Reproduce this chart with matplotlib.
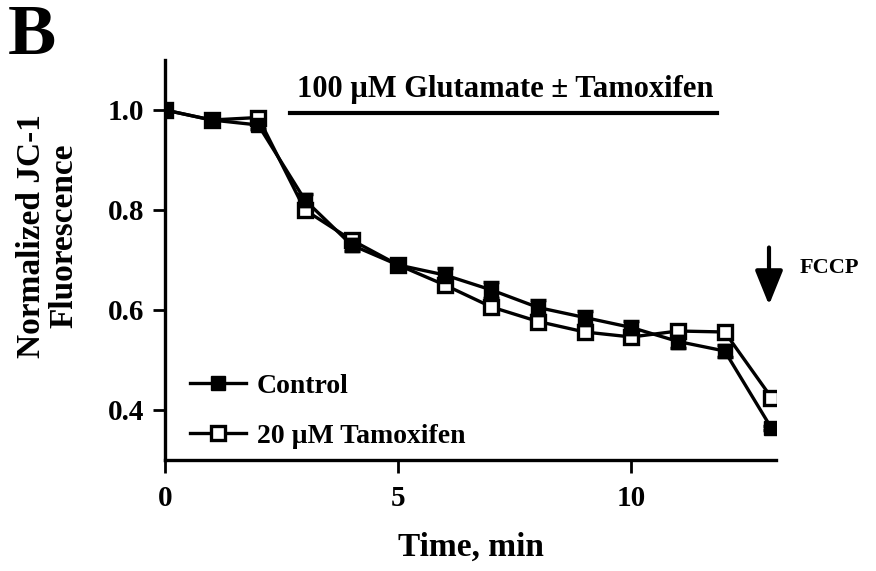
import matplotlib
matplotlib.use("Agg")
import matplotlib.pyplot as plt
from matplotlib.lines import Line2D

plt.rcParams['font.family'] = ['Liberation Serif', 'DejaVu Serif']
plt.rcParams['font.weight'] = 'bold'

time = list(range(14))
control = [1.0, 0.98, 0.97, 0.82, 0.73, 0.69, 0.67, 0.64, 0.605, 0.585, 0.565, 0.537, 0.518, 0.364]
control_err = [0.0, 0.005, 0.008, 0.012, 0.012, 0.008, 0.014, 0.016, 0.015, 0.014, 0.013, 0.012, 0.012, 0.004]
tamox = [1.0, 0.98, 0.985, 0.80, 0.74, 0.69, 0.65, 0.606, 0.577, 0.556, 0.546, 0.558, 0.556, 0.425]
tamox_err = [0.0, 0.005, 0.008, 0.010, 0.010, 0.008, 0.010, 0.010, 0.010, 0.010, 0.010, 0.010, 0.012, 0.005]
labels = ["Control", "20 \u00b5M Tamoxifen"]
xticks = [0, 5, 10]
yticks = [0.4, 0.6, 0.8, 1.0]

fig = plt.figure(figsize=(8.76, 5.71), dpi=100)
ax = fig.add_axes([165/876, 1-460/571, 611/876, 400/571])

ax.errorbar(time, tamox, yerr=tamox_err, color='black', lw=2.4, marker='s',
            markersize=10, markerfacecolor='white', markeredgecolor='black',
            markeredgewidth=2.4, capsize=6, elinewidth=2, capthick=2.5, zorder=3)
ax.errorbar(time, control, yerr=control_err, color='black', lw=2.4, marker='s',
            markersize=10, markerfacecolor='black', markeredgecolor='black',
            capsize=6, elinewidth=2, capthick=2.5, zorder=4)

ax.set_xlim(0, 13.1)
ax.set_ylim(0.3, 1.1)
ax.set_xticks(xticks)
ax.set_yticks(yticks)
ax.set_xticklabels([str(t) for t in xticks], fontsize=21, fontweight='bold')
ax.set_yticklabels([f"{t:.1f}" for t in yticks], fontsize=21, fontweight='bold')
for s in ['top', 'right']:
    ax.spines[s].set_visible(False)
for s in ['left', 'bottom']:
    ax.spines[s].set_linewidth(2.4)
ax.tick_params(axis='y', width=2, length=9, pad=6)
ax.tick_params(axis='x', width=2, length=9, pad=9)

ax.set_xlabel("Time, min", fontsize=24, fontweight='bold', labelpad=14)
fig.text(48/876, 1-236/571, "Normalized JC-1\nFluorescence", rotation=90,
         ha='center', va='center', fontsize=24, fontweight='bold', linespacing=1.08)

# glutamate bar
ax.plot([2.68, 11.84], [0.995, 0.995], color='black', lw=3, clip_on=False)
ax.text(7.3, 1.04, "100 \u00b5M Glutamate \u00b1 Tamoxifen", ha='center', va='center',
        fontsize=22, fontweight='bold')

# FCCP arrow
ax.annotate("", xy=(12.95, 0.61), xytext=(12.95, 0.725),
            arrowprops=dict(arrowstyle='-|>,head_width=0.85,head_length=2.1',
                            mutation_scale=10, color='black', lw=3,
                            shrinkA=0, shrinkB=0))
ax.text(13.6, 0.684, "FCCP", ha='left', va='center', fontsize=16, fontweight='bold',
        clip_on=False)

# "B" panel label
fig.text(8/876, 1-37/571, "B", ha='left', va='center', fontsize=52, fontweight='bold')

handles = [
    Line2D([], [], color='black', lw=2.4, marker='s', markersize=10,
           markerfacecolor='black', markeredgecolor='black'),
    Line2D([], [], color='black', lw=2.4, marker='s', markersize=10,
           markerfacecolor='white', markeredgecolor='black', markeredgewidth=2.4),
]
ax.legend(handles, labels, loc='lower left', bbox_to_anchor=(0.0, -0.035),
          frameon=False, prop={'weight': 'bold', 'size': 20},
          handlelength=2.0, handletextpad=0.4, labelspacing=0.9)

fig.savefig("out.png", dpi=100)
